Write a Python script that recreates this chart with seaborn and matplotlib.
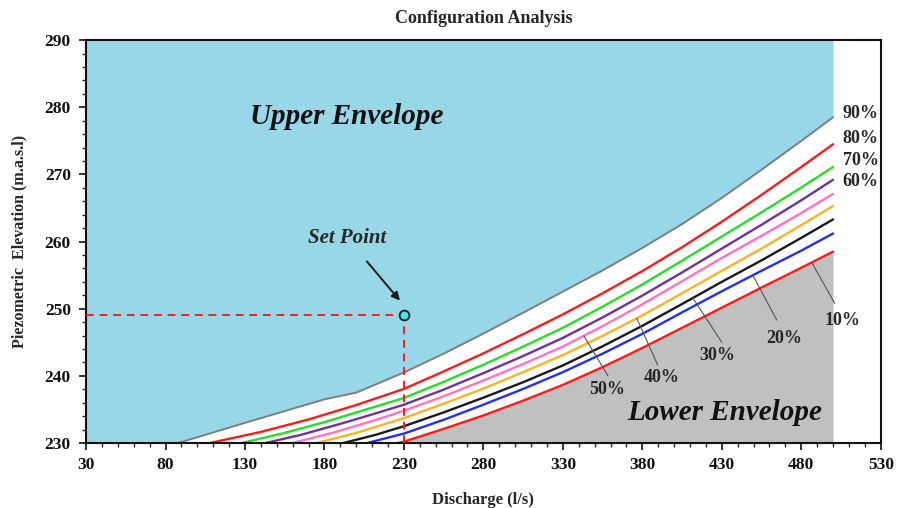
import numpy as np
import pandas as pd
import matplotlib
matplotlib.use("Agg")
import matplotlib.pyplot as plt
from matplotlib.ticker import MultipleLocator
import seaborn as sns

# Discharge (l/s) / piezometric elevation (m.a.s.l) pairs for each exceedance curve
q_90 = [88, 130, 180, 200, 230, 255, 280, 305, 330, 355, 380, 405, 430, 455, 480, 500]
h_90 = [230, 233.0, 236.5, 237.5, 240.5, 243.3, 246.3, 249.4, 252.55, 255.7, 259.05,
        262.6, 266.5, 270.7, 275.0, 278.5]

q_80 = [108, 140, 170, 200, 230, 255, 280, 305, 330, 355, 380, 405, 430, 455, 480, 500]
h_80 = [230, 231.65, 233.5, 235.65, 238.05, 240.65, 243.35, 246.2, 249.15, 252.3, 255.6,
        259.15, 262.95, 266.95, 271.1, 274.5]

q_70 = [128, 155, 180, 205, 230, 255, 280, 305, 330, 355, 380, 405, 430, 455, 480, 500]
h_70 = [230, 231.5, 233.1, 234.9, 236.7, 239.1, 241.65, 244.35, 247.15, 250.3, 253.6,
        257.15, 260.75, 264.35, 268.05, 271.1]

q_60 = [143, 165, 190, 210, 230, 255, 280, 305, 330, 355, 380, 405, 430, 455, 480, 500]
h_60 = [230, 231.2, 232.85, 234.25, 235.7, 237.95, 240.4, 242.95, 245.65, 248.7, 251.95,
        255.4, 258.95, 262.5, 266.15, 269.2]

q_50 = [160, 185, 210, 230, 255, 280, 305, 330, 355, 380, 405, 430, 455, 480, 500]
h_50 = [230, 231.5, 233.25, 234.8, 236.95, 239.3, 241.75, 244.35, 247.4, 250.65, 254.1,
        257.55, 260.85, 264.25, 267.1]

q_40 = [175, 200, 230, 255, 280, 305, 330, 355, 380, 405, 430, 455, 480, 500]
h_40 = [230, 231.5, 233.7, 235.85, 238.1, 240.55, 243.1, 245.95, 249.0, 252.3, 255.65,
        258.95, 262.45, 265.3]

q_30 = [192, 212, 230, 255, 280, 305, 330, 355, 380, 405, 430, 455, 480, 500]
h_30 = [230, 231.2, 232.5, 234.55, 236.75, 239.05, 241.55, 244.4, 247.45, 250.7, 254.0,
        257.2, 260.55, 263.3]

q_20 = [207, 230, 255, 280, 305, 330, 355, 380, 405, 430, 455, 480, 500]
h_20 = [230, 231.4, 233.45, 235.7, 238.05, 240.55, 243.3, 246.25, 249.45, 252.6, 255.65,
        258.65, 261.2]

q_10 = [226, 230, 255, 280, 305, 330, 355, 380, 405, 430, 455, 480, 500]
h_10 = [230, 230.2, 232.1, 234.1, 236.3, 238.65, 241.3, 244.15, 247.15, 250.15, 253.15,
        256.1, 258.5]

curve_labels = ["90%", "80%", "70%", "60%", "50%", "40%", "30%", "20%", "10%"]
set_point_q = 230
set_point_h = 249

x_ticks = [30, 80, 130, 180, 230, 280, 330, 380, 430, 480, 530]
y_ticks = [230, 240, 250, 260, 270, 280, 290]

curves = {
    "90%": (q_90, h_90), "80%": (q_80, h_80), "70%": (q_70, h_70),
    "60%": (q_60, h_60), "50%": (q_50, h_50), "40%": (q_40, h_40),
    "30%": (q_30, h_30), "20%": (q_20, h_20), "10%": (q_10, h_10),
}
palette = {
    "90%": "#7f7f7f", "80%": "#ff1a1a", "70%": "#22e022", "60%": "#7030a0",
    "50%": "#ff70c8", "40%": "#ffb21e", "30%": "#1a1a1a", "20%": "#1f2dff",
    "10%": "#ff1a1a",
}

df = pd.concat(
    [pd.DataFrame({"Discharge": q, "Elevation": h, "Curve": name})
     for name, (q, h) in curves.items()],
    ignore_index=True,
)

sns.set_style("white")
plt.rcParams["font.family"] = ["Liberation Serif", "DejaVu Serif"]
plt.rcParams["font.weight"] = "bold"

fig = plt.figure(figsize=(8.99, 5.08), dpi=100)
ax = fig.add_axes([0.0957, 0.128, 0.884, 0.793])

# envelopes
ax.fill_between([30] + q_90, [230] + h_90, 290, color="#98d7e8", lw=0, zorder=0)
ax.fill_between(q_10, 230, h_10, color="#c0c0c0", lw=0, zorder=0)

sns.lineplot(data=df, x="Discharge", y="Elevation", hue="Curve",
             hue_order=curve_labels, palette=palette, sort=False,
             estimator=None, linewidth=1.7, legend=False, ax=ax, zorder=2)
ax.lines[0].set_linewidth(1.4)
for ln in ax.lines:
    ln.set_solid_joinstyle("round")

# set point and its guide lines
ax.plot([30, set_point_q], [set_point_h, set_point_h], color="#ff1a1a",
        lw=1.4, ls=(0, (4, 3)), zorder=3)
ax.plot([set_point_q, set_point_q], [230, set_point_h], color="#ff1a1a",
        lw=1.4, ls=(0, (4, 3)), zorder=3)
ax.plot([set_point_q], [set_point_h], marker="o", ms=7, mfc="#3fe6ee",
        mec="#1a1a1a", mew=1.3, zorder=5, clip_on=False)
ax.annotate("Set Point", xy=(227.5, 251.2), xytext=(194, 260.6),
            ha="center", va="center", fontsize=15, fontstyle="italic",
            fontweight="bold",
            arrowprops=dict(arrowstyle="-|>", color="#1a1a1a", lw=1.4,
                            shrinkA=10, shrinkB=0, mutation_scale=12))

ax.text(194, 278.7, "Upper Envelope", ha="center", va="center",
        fontsize=21, fontstyle="italic", fontweight="bold", color="#111111")
ax.text(432, 234.6, "Lower Envelope", ha="center", va="center",
        fontsize=21, fontstyle="italic", fontweight="bold", color="#111111")

# curve labels on the right side
for name, y in zip(["90%", "80%", "70%", "60%"], [279.1, 275.3, 272.1, 269.0]):
    ax.text(506.0, y, name, ha="left", va="center", fontsize=13,
            fontweight="bold")

# labels with leader lines to the lower curves
leaders = [
    ("50%", 343.2, 358.4, 240.0, 357.7, 237.9),
    ("40%", 376.5, 389.7, 241.6, 392.3, 239.8),
    ("30%", 411.8, 430.0, 245.0, 426.9, 243.1),
    ("20%", 449.5, 464.6, 248.3, 469.6, 245.6),
    ("10%", 486.6, 501.0, 250.8, 506.0, 248.3),
]
for name, qa, qb, hb, qt, ht in leaders:
    q, h = curves[name]
    ha_ = np.interp(qa, q, h)
    ax.plot([qa, qb], [ha_, hb], color="#555555", lw=0.8, zorder=3)
    ax.text(qt, ht, name, ha="center", va="center", fontsize=13,
            fontweight="bold")

ax.set_xlim(30, 530)
ax.set_ylim(230, 290)
ax.set_xticks(x_ticks)
ax.set_yticks(y_ticks)
ax.xaxis.set_minor_locator(MultipleLocator(10))
ax.yaxis.set_minor_locator(MultipleLocator(2))
ax.tick_params(which="major", direction="out", length=5, width=1.2,
               labelsize=12.5, colors="#111111", bottom=True, left=True)
ax.tick_params(which="minor", direction="out", length=3, width=1.0,
               bottom=True, left=True)
for lab in ax.get_xticklabels() + ax.get_yticklabels():
    lab.set_fontweight("bold")
ax.tick_params(axis="x", pad=5)
ax.tick_params(axis="y", pad=6)

for s in ax.spines.values():
    s.set_color("#111111")
    s.set_linewidth(1.5)
    s.set_visible(True)

ax.set_xlabel("Discharge (l/s)", fontsize=12, fontweight="bold", labelpad=14)
ax.set_ylabel("Piezometric  Elevation (m.a.s.l)", fontsize=11.5,
              fontweight="bold", labelpad=12)
ax.set_title("Configuration Analysis", fontsize=13, fontweight="bold", pad=12)

fig.savefig("out.png", dpi=100)
